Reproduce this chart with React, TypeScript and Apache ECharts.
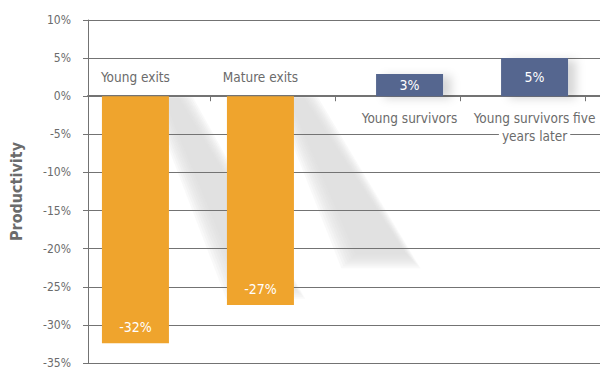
import React, { useEffect, useRef } from "react";
import * as echarts from "echarts";

const categories = ["Young exits", "Mature exits", "Young survivors", "Young survivors five years later"];
const categoryLabels = ["Young exits", "Mature exits", "Young survivors", "Young survivors five\nyears later"];
const exitValues: (number | string)[] = [-32.4, -27.4, "-", "-"];
const survivorValues: (number | string)[] = ["-", "-", 2.9, 5.0];
const exitBase: (number | string)[] = [0, 0, "-", "-"];
const survivorBase: (number | string)[] = ["-", "-", 0, 0];
const yMin = -35;
const yMax = 10;
const yStep = 5;

const FONT = "'DejaVu Sans Condensed', 'Liberation Sans Narrow', Roboto, sans-serif";
const TEXT = "#6b6b6b";
const LINE = "#737373";
const ORANGE = "#efa42d";
const BLUE = "#55668f";
const SHADOW = "#d8d9db";

export default function App() {
  const ref = useRef<HTMLDivElement>(null);
  useEffect(() => {
    if (!ref.current) return;
    const chart = echarts.init(ref.current, undefined, { renderer: "svg" });
    const top = 20;
    const bottom = 8;
    const catLabel = (pos: "top" | "bottom", distance: number) => ({
      show: true,
      position: pos,
      distance,
      formatter: (p: any) =>
        categoryLabels[p.dataIndex]
          .split("\n")
          .map((l) => `{c|${l}}`)
          .join("\n"),
      rich: {
        c: {
          fontFamily: FONT,
          fontSize: 13.5,
          color: TEXT,
          backgroundColor: "#ffffff",
          padding: [1, 3],
          lineHeight: 18,
        },
      },
    });
    const barCommon = {
      type: "bar" as const,
      xAxisIndex: 1,
      yAxisIndex: 1,
      barWidth: 67,
      barGap: "-64%",
    };
    chart.setOption({
      animation: false,
      backgroundColor: "#ffffff",
      grid: [
        { left: 80, right: 0, top, bottom },
        { left: 85, right: 15, top, bottom },
      ],
      xAxis: [
        {
          gridIndex: 0,
          type: "category",
          data: [""],
          axisLine: { show: true, onZero: true, lineStyle: { color: LINE, width: 2 } },
          axisTick: { show: false },
          axisLabel: { show: false },
          splitLine: { show: false },
        },
        {
          gridIndex: 1,
          type: "category",
          data: categories,
          axisLine: { show: false, onZero: true },
          axisTick: {
            show: true,
            length: 5,
            lineStyle: { color: LINE, width: 1 },
            interval: (i: number) => i > 0,
          },
          axisLabel: { show: false },
          splitLine: { show: false },
        },
      ],
      yAxis: [
        {
          gridIndex: 0,
          type: "value",
          min: yMin,
          max: yMax,
          interval: yStep,
          name: "Productivity",
          nameLocation: "middle",
          nameGap: 64,
          nameRotate: 90,
          nameTextStyle: { fontFamily: FONT, fontSize: 16, fontWeight: "bold", color: TEXT },
          axisLine: { show: true, lineStyle: { color: LINE, width: 1 } },
          axisTick: { show: true, length: 5, lineStyle: { color: LINE } },
          axisLabel: {
            formatter: (v: number) => `${v}%`,
            margin: 17,
            fontFamily: FONT,
            fontSize: 12,
            color: TEXT,
          },
          splitLine: { show: true, lineStyle: { color: LINE, width: 1 } },
        },
        {
          gridIndex: 1,
          type: "value",
          min: yMin,
          max: yMax,
          interval: yStep,
          show: false,
          splitLine: { show: false },
        },
      ],
      series: [
        {
          ...barCommon,
          name: "exitLabels",
          stack: "a",
          data: exitBase,
          itemStyle: { color: "transparent" },
          label: catLabel("top", 10),
          silent: true,
        },
        {
          ...barCommon,
          name: "Exits",
          stack: "a",
          data: exitValues,
          itemStyle: { color: ORANGE },
          label: {
            show: true,
            position: "insideBottom",
            distance: 9,
            formatter: (p: any) => `${Math.round(p.value)}%`,
            fontFamily: FONT,
            fontSize: 14,
            color: "#ffffff",
          },
        },
        {
          ...barCommon,
          name: "survivorLabels",
          stack: "b",
          data: survivorBase,
          itemStyle: { color: "transparent" },
          label: catLabel("bottom", 13),
          silent: true,
        },
        {
          ...barCommon,
          name: "Survivors",
          stack: "b",
          data: survivorValues,
          itemStyle: {
            color: BLUE,
            shadowColor: "rgba(0,0,0,0.16)",
            shadowBlur: 10,
            shadowOffsetX: 8,
            shadowOffsetY: 2,
          },
          label: {
            show: true,
            position: "inside",
            formatter: (p: any) => `${Math.round(p.value)}%`,
            fontFamily: FONT,
            fontSize: 14,
            color: "#ffffff",
          },
        },
      ],
    });

    // soft cast shadows behind the orange bars, derived from the bars' own layout
    try {
      const data = (chart as any).getModel().getSeriesByIndex(1).getData();
      const elements: any[] = [];
      const spreads = [14, 12, 10, 8, 6, 4, 2, 0];
      for (let i = 0; i < data.count(); i++) {
        const lay = data.getItemLayout(i);
        if (!lay || !isFinite(lay.height) || lay.height === 0) continue;
        const T = Math.min(lay.y, lay.y + lay.height) + 1;
        const len = Math.abs(lay.height);
        const W = Math.abs(lay.width);
        const R = Math.max(lay.x, lay.x + lay.width);
        const H = 0.8 * len;
        const shift = 0.32 * H;
        spreads.forEach((s) => {
          elements.push({
            type: "polygon",
            z: -10,
            shape: {
              points: [
                [R - 6 - s, T],
                [R + 10 + s, T],
                [R + shift + W - 8 + s, T + H - 10 + s],
                [R + shift + 8 - s, T + H - 10 + s],
              ],
            },
            style: { fill: SHADOW, opacity: 0.16 },
            silent: true,
          });
        });
      }
      chart.setOption({ graphic: { elements } });
    } catch (e) {
      // ignore
    }

    return () => chart.dispose();
  }, []);
  return (
    <div
      ref={ref}
      style={{ position: "fixed", left: 0, top: 0, width: 600, height: 371, background: "#fff" }}
    />
  );
}
